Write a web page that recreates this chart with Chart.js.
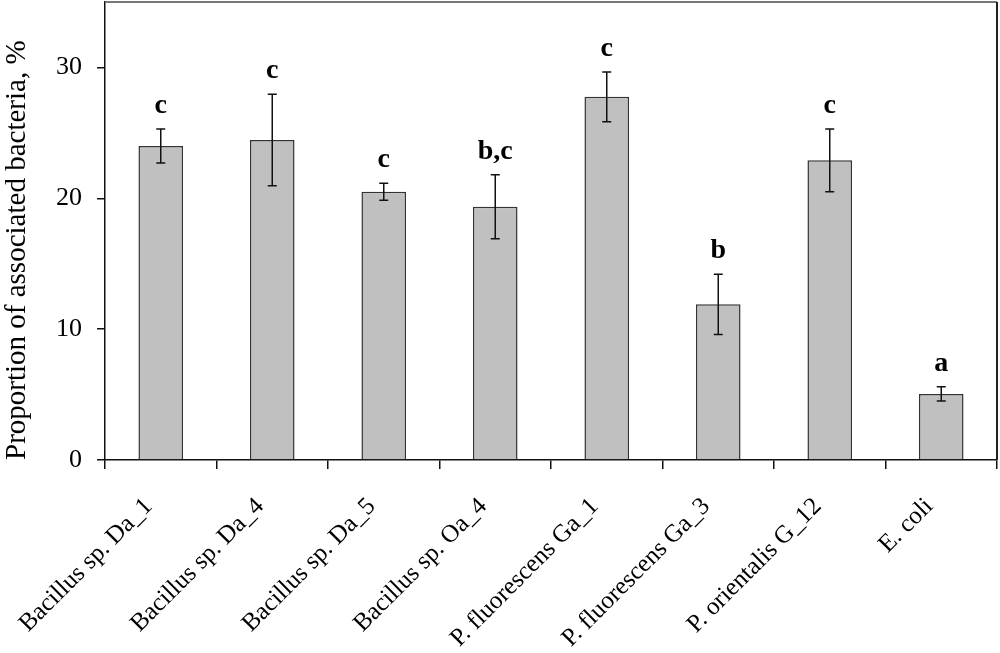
<!DOCTYPE html>
<html>
<head>
<meta charset="utf-8">
<script src="https://cdn.jsdelivr.net/npm/chart.js@4"></script>
<style>
  html, body { margin: 0; padding: 0; background: #fff; }
  #wrap { width: 1000px; height: 653px; }
</style>
</head>
<body>
<div id="wrap"><canvas id="bactCV" width="1000" height="653"></canvas></div>
<script>
const strains = ['Bacillus sp. Da_1', 'Bacillus sp. Da_4', 'Bacillus sp. Da_5', 'Bacillus sp. Oa_4',
  'P. fluorescens Ga_1', 'P. fluorescens Ga_3', 'P. orientalis G_12', 'E. coli'];
const proportion = [24.0, 24.45, 20.5, 19.35, 27.75, 11.9, 22.9, 5.05];
const stdErr = [1.3, 3.5, 0.65, 2.45, 1.9, 2.3, 2.4, 0.55];
const groups = ['c', 'c', 'c', 'b,c', 'c', 'b', 'c', 'a'];

const serif = 'Liberation Serif';

(function(){
  const ctx = document.getElementById('bactCV');

  // error bars + significance letters
  const errorBars = {
    id: 'errorBars',
    afterDatasetsDraw(chart) {
      const c = chart.ctx;
      const yS = chart.scales.y;
      const meta = chart.getDatasetMeta(0);
      c.save();
      c.strokeStyle = '#111';
      c.lineWidth = 1.5;
      c.fillStyle = '#000';
      c.font = 'bold 28px "' + serif + '"';
      c.textAlign = 'center';
      c.textBaseline = 'alphabetic';
      meta.data.forEach(function(bar, i) {
        const hi = yS.getPixelForValue(proportion[i] + stdErr[i]);
        const lo = yS.getPixelForValue(proportion[i] - stdErr[i]);
        c.beginPath();
        c.moveTo(bar.x, hi); c.lineTo(bar.x, lo);
        c.moveTo(bar.x - 4.5, hi); c.lineTo(bar.x + 4.5, hi);
        c.moveTo(bar.x - 4.5, lo); c.lineTo(bar.x + 4.5, lo);
        c.stroke();
        c.fillText(groups[i], bar.x, hi - 16);
      });
      c.restore();
    }
  };

  // top / right frame of the plot area
  const frame = {
    id: 'frame',
    beforeDatasetsDraw(chart) {
      const a = chart.chartArea;
      const c = chart.ctx;
      c.save();
      c.lineWidth = 2;
      c.strokeStyle = '#777';
      c.beginPath();
      c.moveTo(a.left, a.top); c.lineTo(a.right, a.top);
      c.stroke();
      c.strokeStyle = '#222';
      c.beginPath();
      c.moveTo(a.right, a.top); c.lineTo(a.right, a.bottom);
      c.stroke();
      c.restore();
    }
  };

  new Chart(ctx, {
    type: 'bar',
    data: {
      labels: strains,
      datasets: [{
        data: proportion,
        backgroundColor: '#c0c0c0',
        borderColor: '#333',
        borderWidth: 1.5,
        barPercentage: 0.4,
        categoryPercentage: 1
      }]
    },
    options: {
      responsive: false,
      animation: false,
      layout: {
        padding: { top: 2, right: 3, left: 0, bottom: 0 }
      },
      scales: {
        x: {
          afterFit: function(scale) {
            scale.height = 193;
            scale.paddingLeft = 0;
            scale.paddingRight = 0;
          },
          grid: {
            drawOnChartArea: false,
            offset: true,
            color: '#111',
            lineWidth: 1.5,
            tickLength: 9
          },
          border: { color: '#111', width: 1.5 },
          ticks: {
            color: '#000',
            autoSkip: false,
            minRotation: 45,
            maxRotation: 45,
            padding: 23,
            labelOffset: -12,
            font: { family: serif, size: 25 }
          }
        },
        y: {
          min: 0,
          max: 35,
          afterFit: function(scale) {
            scale.width = 105;
            scale.paddingTop = 0;
            scale.paddingBottom = 0;
          },
          grid: {
            drawOnChartArea: false,
            color: '#111',
            lineWidth: 1.5,
            tickLength: 8
          },
          border: { color: '#111', width: 1.5 },
          ticks: {
            stepSize: 10,
            includeBounds: false,
            color: '#000',
            padding: 15,
            font: { family: serif, size: 26 }
          },
          title: {
            display: true,
            text: 'Proportion of associated bacteria, %',
            align: 'start',
            color: '#000',
            padding: 0,
            font: { family: serif, size: 29 }
          }
        }
      },
      plugins: {
        legend: { display: false },
        tooltip: { enabled: false }
      }
    },
    plugins: [frame, errorBars]
  });
})();
</script>
</body>
</html>
